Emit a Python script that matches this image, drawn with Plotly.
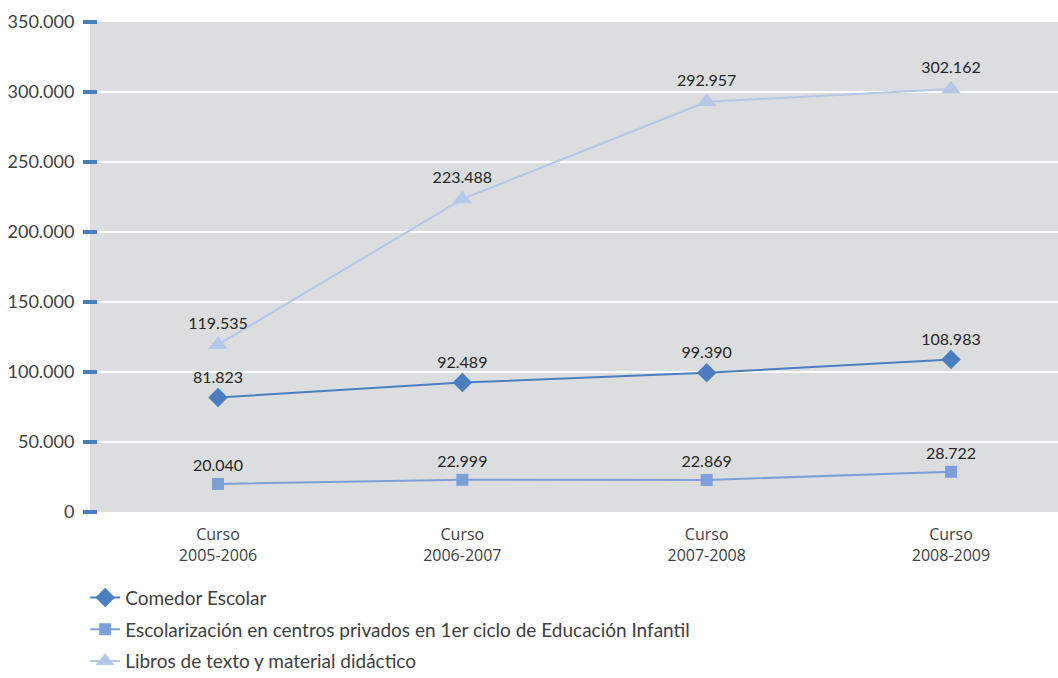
import plotly.graph_objects as go

categories = ["Curso<br>2005-2006", "Curso<br>2006-2007", "Curso<br>2007-2008", "Curso<br>2008-2009"]
comedor = [81823, 92489, 99390, 108983]
escolarizacion = [20040, 22999, 22869, 28722]
libros = [119535, 223488, 292957, 302162]
names = ["Comedor Escolar",
         "Escolarización en centros privados en 1er ciclo de Educación Infantil",
         "Libros de texto y material didáctico"]
y_ticks = [0, 50000, 100000, 150000, 200000, 250000, 300000, 350000]
y_tick_labels = ["0", "50.000", "100.000", "150.000", "200.000", "250.000", "300.000", "350.000"]

def fmt(v):
    return f"{v:,}".replace(",", ".")

FONT = "Lato"
TICK_BLUE = "#4a7ebf"
series = [
    (names[0], comedor, "#4a7ebf", "diamond", 15, "#4a7ebf"),
    (names[1], escolarizacion, "#7d9fd8", "square", 12, "#7d9fd8"),
    (names[2], libros, "#b4c7e8", "triangle-up", 17, "#b4c7e8"),
]

fig = go.Figure()
for i, (nm, vals, col, sym, sz, mcol) in enumerate(series):
    fig.add_trace(go.Scatter(
        x=categories, y=vals, name=nm, mode="lines+markers+text",
        line=dict(color=col, width=2),
        marker=dict(symbol=sym, size=sz, color=mcol),
        text=[fmt(v) for v in vals], textposition="top center",
        textfont=dict(family=FONT, size=16, color="#262626"),
        legendgroup=f"g{i}",
        cliponaxis=False,
    ))

fig.update_layout(
    width=1058, height=678,
    margin=dict(l=90, r=0, t=22, b=166, autoexpand=False),
    paper_bgcolor="white", plot_bgcolor="#dcdddf",
    font=dict(family=FONT, size=16, color="#404040"),
    showlegend=True,
    legend=dict(x=-0.005, xanchor="left", y=-0.136, yanchor="top",
                orientation="v", traceorder="grouped", tracegroupgap=4,
                font=dict(family=FONT, size=19, color="#404040"),
                bgcolor="rgba(0,0,0,0)", itemwidth=30),
    xaxis=dict(type="category", range=[-0.524, 3.438], showgrid=False,
               zeroline=False, showline=False, automargin=False,
               ticks="outside", ticklen=8, tickcolor="rgba(0,0,0,0)",
               tickfont=dict(family="Open Sans", size=16, color="#404040")),
    yaxis=dict(range=[0, 350000], tickvals=y_ticks, ticktext=y_tick_labels,
               showgrid=True, gridcolor="white", gridwidth=2,
               zeroline=False, showline=False, automargin=False,
               ticks="outside", ticklen=7, tickcolor="rgba(0,0,0,0)",
               ticklabelstandoff=4,
               tickfont=dict(family=FONT, size=18, color="#404040")),
    yaxis2=dict(range=[0, 350000], tickvals=y_ticks, overlaying="y",
                anchor="free", position=0.0072, side="left",
                showgrid=False, zeroline=False, showline=False, showticklabels=False,
                ticks="outside", ticklen=14, tickwidth=4, tickcolor=TICK_BLUE,
                automargin=False),
)
# invisible helper trace so the secondary axis (used only for the tick marks) renders
fig.add_trace(go.Scatter(x=[categories[0]], y=[None], yaxis="y2", showlegend=False,
                         hoverinfo="skip"))

fig.write_html("out.html", config={"displayModeBar": False},
               post_script="document.body.style.margin='0';")
